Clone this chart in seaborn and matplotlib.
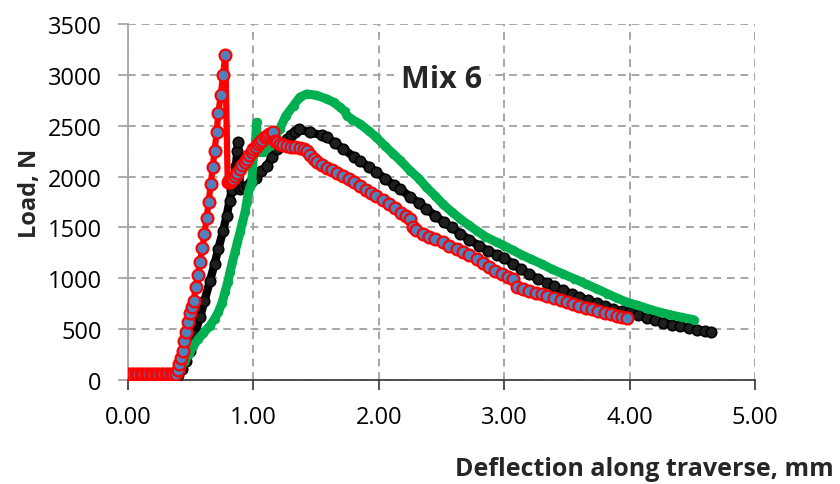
import numpy as np
import pandas as pd
import matplotlib
matplotlib.use("Agg")
import matplotlib.pyplot as plt
import seaborn as sns

# ---------------- data ----------------
red_x = [0.00, 0.02, 0.04, 0.06, 0.08, 0.10, 0.12, 0.14, 0.16, 0.18, 0.20, 0.22, 0.24, 0.26, 0.28, 0.30, 0.32, 0.34, 0.36,
         0.38, 0.395, 0.41, 0.42, 0.435, 0.45, 0.465, 0.48, 0.495, 0.51, 0.524, 0.54, 0.556, 0.574, 0.593, 0.61, 0.627,
         0.643, 0.66, 0.675, 0.69, 0.707, 0.72, 0.74, 0.758, 0.776,
         0.795, 0.81, 0.825, 0.84, 0.855, 0.87, 0.89, 0.91, 0.93, 0.947, 0.965, 0.985, 1.00, 1.02, 1.035, 1.05, 1.07,
         1.09, 1.106, 1.125, 1.145, 1.16,
         1.17, 1.19, 1.21, 1.24, 1.27, 1.30, 1.33, 1.37, 1.40, 1.425, 1.45, 1.48, 1.51, 1.55, 1.59, 1.63, 1.67, 1.717,
         1.76, 1.80, 1.85, 1.90, 1.94, 1.98, 2.03, 2.08, 2.13, 2.18, 2.22, 2.25, 2.27, 2.30, 2.35, 2.40, 2.45, 2.51,
         2.56, 2.62, 2.67, 2.72, 2.78, 2.83, 2.88, 2.93, 2.98, 3.03, 3.07, 3.10, 3.15, 3.20, 3.25, 3.30, 3.34, 3.40,
         3.45, 3.50, 3.55, 3.60, 3.65, 3.70, 3.75, 3.80, 3.85, 3.90, 3.94, 3.98]
red_y = [58, 57, 59, 58, 57, 58, 59, 58, 57, 58, 58, 59, 57, 58, 58, 59, 58, 58, 59,
         60, 100, 160, 216, 290, 383, 470, 570, 660, 720, 777, 917, 1032, 1157, 1295, 1435, 1590,
         1753, 1925, 2090, 2250, 2435, 2622, 2805, 3000, 3196,
         1943, 1950, 1965, 1976, 2005, 2040, 2075, 2110, 2145, 2173, 2210, 2245, 2271, 2295, 2318, 2337, 2360,
         2385, 2402, 2415, 2428, 2435,
         2353, 2335, 2320, 2310, 2300, 2295, 2290, 2285, 2270, 2250, 2210, 2173, 2140, 2115, 2085, 2065, 2040, 2008,
         1975, 1945, 1905, 1870, 1840, 1812, 1770, 1730, 1690, 1645, 1610, 1583, 1500, 1475, 1440, 1410, 1385, 1354,
         1320, 1285, 1255, 1225, 1190, 1150, 1110, 1075, 1045, 1015, 993, 911, 895, 875, 860, 842, 829, 805,
         785, 765, 748, 730, 712, 695, 678, 662, 645, 630, 618, 607]

black_x = [0.00, 0.04, 0.08, 0.12, 0.16, 0.20, 0.24, 0.28, 0.32, 0.36, 0.40, 0.43, 0.46, 0.494, 0.53, 0.574, 0.61,
           0.654, 0.69, 0.72, 0.757, 0.787, 0.81, 0.827, 0.845, 0.86, 0.872, 0.878, 0.885, 0.893, 0.92, 0.947, 0.98,
           1.02, 1.06, 1.106, 1.15, 1.19, 1.23, 1.266, 1.30, 1.33, 1.36, 1.45, 1.55, 1.585, 1.65, 1.717, 1.80, 1.85,
           1.92, 1.98, 2.05, 2.12, 2.17, 2.25, 2.32, 2.38, 2.45, 2.52, 2.58, 2.65, 2.72, 2.80, 2.87, 2.94, 3.00, 3.07,
           3.13, 3.20, 3.27, 3.34, 3.40, 3.47, 3.54, 3.60, 3.67, 3.74, 3.80, 3.87, 3.94, 4.00, 4.07, 4.14, 4.20, 4.27,
           4.34, 4.40, 4.47, 4.54, 4.60, 4.65]
black_y = [50, 49, 50, 51, 50, 49, 50, 50, 51, 50, 45, 110, 190, 290, 440, 615, 780,
           975, 1140, 1288, 1460, 1616, 1760, 1870, 1960, 2100, 2250, 2340, 2100, 1880, 1895, 1910, 1945,
           1990, 2050, 2107, 2190, 2270, 2330, 2370, 2410, 2440, 2465, 2435, 2405, 2386, 2330, 2271, 2195, 2156,
           2095, 2042, 1980, 1915, 1880, 1800, 1740, 1680, 1615, 1550, 1500, 1440, 1380, 1320, 1270, 1230, 1200, 1140,
           1090, 1040, 995, 955, 920, 880, 845, 815, 785, 755, 730, 700, 675, 665, 635, 610, 590, 565,
           545, 528, 510, 495, 483, 475]

green_x = [0.00, 0.05, 0.10, 0.15, 0.20, 0.25, 0.30, 0.35, 0.40, 0.415, 0.45, 0.49, 0.52, 0.56, 0.60, 0.654, 0.69,
           0.72, 0.75, 0.773, 0.795, 0.813, 0.833, 0.853, 0.873, 0.893, 0.913, 0.933, 0.947, 0.96, 0.975, 0.986,
           1.00, 1.015, 1.026, 1.03, 1.05, 1.08, 1.13, 1.16, 1.21, 1.26, 1.32, 1.37, 1.425, 1.50, 1.585, 1.64, 1.69,
           1.73, 1.745, 1.79, 1.85, 1.92, 1.98, 2.05, 2.116, 2.17, 2.25, 2.32, 2.38, 2.45, 2.51, 2.58, 2.65, 2.72,
           2.78, 2.85, 2.94, 3.00, 3.07, 3.14, 3.21, 3.30, 3.38, 3.47, 3.56, 3.65, 3.74, 3.82, 3.90, 3.98, 4.06,
           4.15, 4.24, 4.33, 4.42, 4.51]
green_y = [52, 51, 52, 52, 51, 52, 52, 51, 55, 108, 180, 260, 337, 400, 460, 534, 600,
           666, 760, 862, 960, 1059, 1160, 1256, 1355, 1452, 1550, 1649, 1750, 1845, 1900, 1943,
           2205, 2300, 2534, 2304, 2240, 2238, 2304, 2370, 2468, 2600, 2697, 2780, 2812, 2800, 2763, 2730, 2681,
           2640, 2599, 2560, 2517, 2450, 2386, 2300, 2222, 2160, 2058, 1980, 1894, 1810, 1730, 1655, 1583, 1520,
           1468, 1410, 1354, 1320, 1275, 1230, 1190, 1140, 1090, 1042, 995, 945, 895, 850, 805, 764, 735,
           700, 666, 640, 615, 593]

x_ticks = [0, 1, 2, 3, 4, 5]
x_ticklabels = ["0.00", "1.00", "2.00", "3.00", "4.00", "5.00"]
y_ticks = [0, 500, 1000, 1500, 2000, 2500, 3000, 3500]
y_ticklabels = ["0", "500", "1000", "1500", "2000", "2500", "3000", "3500"]

# ---------------- figure ----------------
sns.set_theme(style="white")
plt.rcParams['font.family'] = ['Open Sans', 'DejaVu Sans']

fig = plt.figure(figsize=(8.4, 4.85), dpi=100)
ax = fig.add_axes([128/840, 1 - 381/485, (755-128)/840, (381-25)/485])

df_b = pd.DataFrame({"x": black_x, "y": black_y})
df_g = pd.DataFrame({"x": green_x, "y": green_y})
df_r = pd.DataFrame({"x": red_x, "y": red_y})

sns.lineplot(data=df_b, x="x", y="y", sort=False, estimator=None, ax=ax,
             color="black", linewidth=6, marker="o", markersize=7.5,
             markerfacecolor="#1e1e1e", markeredgecolor="black", markeredgewidth=1.2, zorder=3)
sns.lineplot(data=df_g, x="x", y="y", sort=False, estimator=None, ax=ax,
             color="#00B050", linewidth=6.5, marker="o", markersize=6,
             markerfacecolor="#00B050", markeredgecolor="#00B050", zorder=4)
sns.lineplot(data=df_r, x="x", y="y", sort=False, estimator=None, ax=ax,
             color="#FF0000", linewidth=4.5, marker="o", markersize=8.5,
             markerfacecolor="#4F81BD", markeredgecolor="#FF0000", markeredgewidth=1.6, zorder=5)

ax.set_xlim(0, 5)
ax.set_ylim(0, 3500)
ax.set_xticks(x_ticks)
ax.set_xticklabels(x_ticklabels)
ax.set_yticks(y_ticks)
ax.set_yticklabels(y_ticklabels)
ax.set_xlabel("")
ax.set_ylabel("")

ax.grid(True, color="#A6A6A6", linestyle=(0, (4, 3)), linewidth=1.4)
ax.set_axisbelow(True)
for s in ["top", "right"]:
    ax.spines[s].set_visible(False)
ax.spines["left"].set_color("#A6A6A6")
ax.spines["left"].set_linewidth(1.3)
ax.spines["bottom"].set_color("#404040")
ax.spines["bottom"].set_linewidth(1.3)

ax.tick_params(axis="y", direction="out", length=7, width=1.3, color="#A6A6A6",
               labelsize=17, pad=12, labelcolor="black", left=True)
ax.tick_params(axis="x", direction="out", length=7, width=1.3, color="#404040",
               labelsize=17, pad=11, labelcolor="black", bottom=True)

ax.text(0.5, 0.845, "Mix 6", transform=ax.transAxes, fontsize=22, fontweight="bold",
        ha="center", va="center", zorder=6,
        bbox=dict(boxstyle="square,pad=0.22", facecolor="white", edgecolor="none"))

fig.text(30/840, 1 - 193/485, "Load, N", rotation=90, fontsize=17, fontweight="bold",
         ha="center", va="center")
fig.text(834/840, 1 - 470/485, "Deflection along traverse, mm", fontsize=18, fontweight="bold",
         ha="right", va="center")

fig.savefig("out.png", dpi=100)
